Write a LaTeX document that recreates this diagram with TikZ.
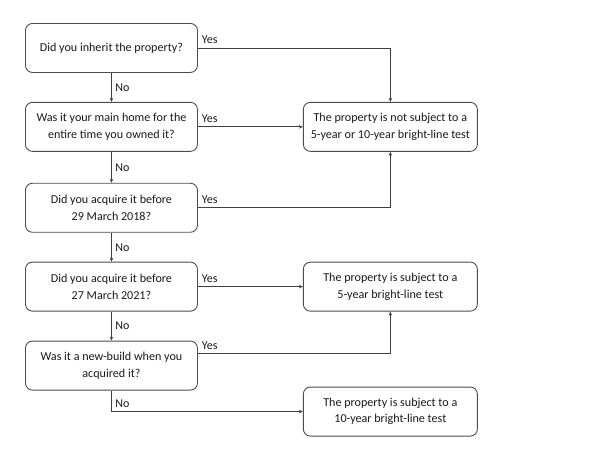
\documentclass[tikz,border=0pt]{standalone}
\usepackage{fontspec}
\setmainfont{Carlito}
\usetikzlibrary{arrows.meta,positioning}

\begin{document}
\begin{tikzpicture}[>={Stealth[length=4pt,width=3.5pt]}, node distance=29pt and 105pt,
  box/.style={draw=black!70, line width=0.9pt, rounded corners=7pt, minimum width=172pt, minimum height=49pt,
    align=center, inner sep=2pt, text=black!90, font=\fontsize{12.1}{16.5}\selectfont},
  lbl/.style={text=black!90, inner sep=3.5pt, font=\fontsize{12}{14}\selectfont},
  line/.style={draw=black!75, line width=0.9pt}]
  \useasboundingbox (0,0) rectangle (600pt,-455pt);
  % questions
  \node[box, anchor=north west] (q1) at (25pt,-23pt) {Did you inherit the property?};
  \node[box, below=of q1] (q2) {Was it your main home for the\\entire time you owned it?};
  \node[box, below=31pt of q2] (q3) {Did you acquire it before\\29 March 2018?};
  \node[box, below=of q3] (q4) {Did you acquire it before\\27 March 2021?};
  \node[box, below=of q4] (q5) {Was it a new-build when you\\acquired it?};
  % outcomes
  \node[box, right=of q2, minimum width=174pt] (r1) {The property is not subject to a\\5-year or 10-year bright-line test};
  \node[box, right=of q4, minimum width=174pt] (r2) {The property is subject to a\\5-year bright-line test};
  \node[box, below=75pt of r2, minimum width=174pt] (r3) {The property is subject to a\\10-year bright-line test};
  % yes
  \draw[line, ->] (q1.east) node[lbl, above right]{Yes} -| (r1.north);
  \draw[line, ->] (q2.east) node[lbl, above right]{Yes} -- (r1.west);
  \draw[line, ->] (q3.east) node[lbl, above right]{Yes} -| (r1.south);
  \draw[line, ->] (q4.east) node[lbl, above right]{Yes} -- (r2.west);
  \draw[line, ->] ([yshift=12pt]q5.east) node[lbl, above right]{Yes} -| (r2.south);
  % no
  \draw[line, ->] (q1) -- node[lbl, right]{No} (q2);
  \draw[line, ->] (q2) -- node[lbl, right]{No} (q3);
  \draw[line, ->] (q3) -- node[lbl, right]{No} (q4);
  \draw[line, ->] (q4) -- node[lbl, right]{No} (q5);
  \draw[line, ->] (q5.south) |- node[lbl, pos=0.5, above right]{No} (r3.west);
\end{tikzpicture}
\end{document}
